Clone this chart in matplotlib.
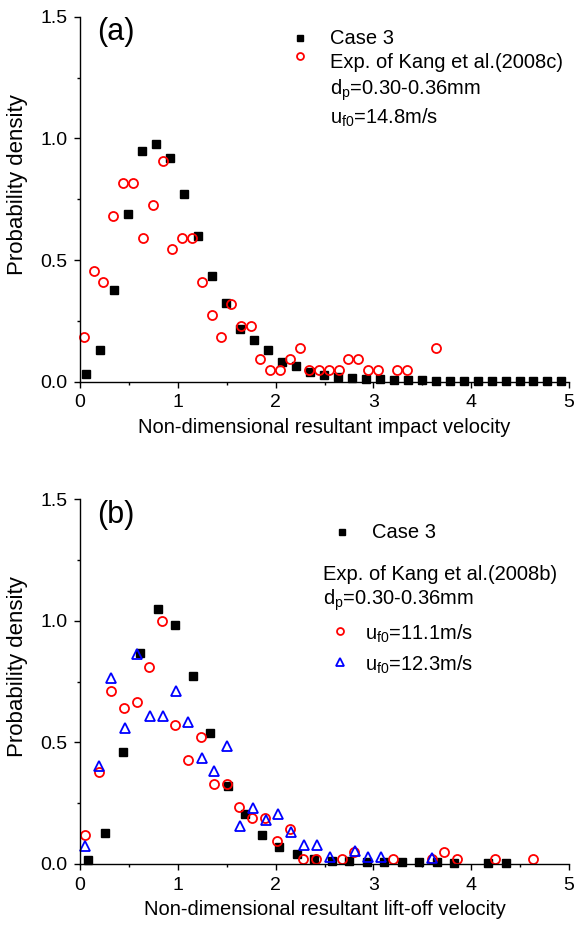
import matplotlib
matplotlib.use("Agg")
import matplotlib.pyplot as plt
from matplotlib.ticker import MultipleLocator

plt.rcParams['font.family'] = ['Liberation Sans', 'DejaVu Sans']

# (a) impact velocity
a_case3_x = [0.061, 0.204, 0.347, 0.490, 0.633, 0.776, 0.919, 1.062, 1.205, 1.348,
             1.491, 1.634, 1.777, 1.920, 2.063, 2.206, 2.349, 2.492, 2.635, 2.778,
             2.921, 3.064, 3.207, 3.350, 3.493, 3.636, 3.779, 3.922, 4.065, 4.208,
             4.351, 4.494, 4.637, 4.780, 4.923]
a_case3_y = [0.030, 0.130, 0.375, 0.690, 0.950, 0.975, 0.920, 0.770, 0.600, 0.435,
             0.325, 0.215, 0.170, 0.130, 0.083, 0.066, 0.040, 0.028, 0.020, 0.016,
             0.013, 0.012, 0.009, 0.007, 0.005, 0.004, 0.004, 0.003, 0.003, 0.003,
             0.003, 0.003, 0.003, 0.003, 0.003]
a_exp_x = [0.04, 0.14, 0.24, 0.34, 0.44, 0.545, 0.645, 0.745, 0.845, 0.945,
           1.045, 1.145, 1.245, 1.345, 1.445, 1.545, 1.645, 1.745, 1.845, 1.945,
           2.045, 2.145, 2.245, 2.345, 2.445, 2.545, 2.645, 2.745, 2.845, 2.945,
           3.045, 3.245, 3.345, 3.645]
a_exp_y = [0.182, 0.454, 0.410, 0.682, 0.817, 0.817, 0.591, 0.725, 0.907, 0.545,
           0.591, 0.591, 0.410, 0.273, 0.182, 0.318, 0.228, 0.228, 0.092, 0.047,
           0.047, 0.092, 0.137, 0.047, 0.047, 0.047, 0.047, 0.092, 0.092, 0.047,
           0.047, 0.047, 0.047, 0.137]

# (b) lift-off velocity
b_case3_x = [0.082, 0.259, 0.436, 0.613, 0.794, 0.975, 1.152, 1.329, 1.510, 1.684,
             1.858, 2.038, 2.215, 2.393, 2.573, 2.754, 2.930, 3.110, 3.290, 3.470,
             3.650, 3.820, 4.170, 4.360]
b_case3_y = [0.015, 0.127, 0.460, 0.869, 1.049, 0.983, 0.772, 0.537, 0.322, 0.205,
             0.120, 0.071, 0.041, 0.022, 0.011, 0.011, 0.010, 0.008, 0.007, 0.007,
             0.007, 0.006, 0.006, 0.005]
b_exp1_x = [0.051, 0.194, 0.320, 0.450, 0.583, 0.709, 0.842, 0.975, 1.107, 1.237,
            1.367, 1.500, 1.629, 1.759, 1.892, 2.018, 2.147, 2.284, 2.413, 2.676,
            2.802, 3.197, 3.600, 3.720, 3.850, 4.240, 4.635]
b_exp1_y = [0.118, 0.379, 0.713, 0.642, 0.665, 0.810, 0.999, 0.570, 0.428, 0.522,
            0.331, 0.331, 0.236, 0.190, 0.190, 0.095, 0.144, 0.022, 0.022, 0.022,
            0.048, 0.022, 0.022, 0.048, 0.022, 0.022, 0.022]
b_exp2_x = [0.054, 0.191, 0.320, 0.460, 0.586, 0.712, 0.845, 0.978, 1.107, 1.244,
            1.373, 1.506, 1.636, 1.766, 1.899, 2.028, 2.157, 2.294, 2.420, 2.556,
            2.812, 2.948, 3.078, 3.600]
b_exp2_y = [0.075, 0.405, 0.763, 0.558, 0.865, 0.610, 0.610, 0.712, 0.586, 0.434,
            0.383, 0.484, 0.155, 0.230, 0.181, 0.205, 0.131, 0.080, 0.080, 0.030,
            0.055, 0.030, 0.030, 0.026]

x_ticks = [0, 1, 2, 3, 4, 5]
y_ticks = [0.0, 0.5, 1.0, 1.5]

W, H = 574, 926
fig = plt.figure(figsize=(W / 100, H / 100), dpi=100)

# axes boxes in pixels: left, right, top, bottom
box_a = (80, 569, 16.7, 381.7)
box_b = (80, 569, 499.3, 864.0)

LEG_FS = 14.5


def pix(box, px, py):
    l, r, t, b = box
    return (px - l) / (r - l), (b - py) / (b - t)


def make_axes(box):
    l, r, t, b = box
    ax = fig.add_axes([l / W, 1 - b / H, (r - l) / W, (b - t) / H])
    ax.set_xlim(0, 5)
    ax.set_ylim(0, 1.5)
    ax.spines['top'].set_visible(False)
    ax.spines['right'].set_visible(False)
    ax.spines['left'].set_linewidth(1.0)
    ax.spines['bottom'].set_linewidth(1.0)
    ax.set_xticks(x_ticks)
    ax.set_xticklabels([str(v) for v in x_ticks])
    ax.set_yticks(y_ticks)
    ax.set_yticklabels(['%.1f' % v for v in y_ticks])
    ax.xaxis.set_minor_locator(MultipleLocator(0.5))
    ax.yaxis.set_minor_locator(MultipleLocator(0.25))
    ax.tick_params(which='major', direction='out', length=4, width=1.0, labelsize=14, pad=5)
    ax.tick_params(which='minor', direction='out', length=2.5, width=1.0)
    ax.set_ylabel('Probability density', fontsize=16)
    # label sits a bit above the axis centre in the original
    ax.yaxis.set_label_coords(*pix(box, 28, t + 0.46 * (b - t)))
    return ax


sq = dict(marker='s', ls='none', color='black', ms=6, clip_on=False)
circ = dict(marker='o', ls='none', mfc='none', mec='red', mew=1.3, ms=6.5, clip_on=False)
tri = dict(marker='^', ls='none', mfc='none', mec='blue', mew=1.3, ms=7, clip_on=False)

# panel (a)
ax1 = make_axes(box_a)
ax1.plot(a_case3_x, a_case3_y, **sq)
ax1.plot(a_exp_x, a_exp_y, **circ)
ax1.set_xlabel('Non-dimensional resultant impact velocity', fontsize=14.5, labelpad=5)
ax1.text(*pix(box_a, 97, 32), '(a)', transform=ax1.transAxes, fontsize=22, va='center')

ax1.plot(*pix(box_a, 300, 38), transform=ax1.transAxes, marker='s', color='black', ms=5, clip_on=False)
ax1.plot(*pix(box_a, 300, 56), transform=ax1.transAxes, marker='o', mfc='none', mec='red',
         mew=1.3, ms=5, clip_on=False)
ax1.text(*pix(box_a, 330, 38), 'Case 3', transform=ax1.transAxes, fontsize=LEG_FS, va='center')
ax1.text(*pix(box_a, 330, 63), 'Exp. of Kang et al.(2008c)', transform=ax1.transAxes,
         fontsize=LEG_FS, va='center')
ax1.text(*pix(box_a, 330, 90), r'd$_\mathregular{p}$=0.30-0.36mm', transform=ax1.transAxes,
         fontsize=LEG_FS, va='center')
ax1.text(*pix(box_a, 330, 118), r'u$_\mathregular{f0}$=14.8m/s', transform=ax1.transAxes,
         fontsize=LEG_FS, va='center')

# panel (b)
ax2 = make_axes(box_b)
ax2.plot(b_case3_x, b_case3_y, **sq)
ax2.plot(b_exp1_x, b_exp1_y, **circ)
ax2.plot(b_exp2_x, b_exp2_y, **tri)
ax2.set_xlabel('Non-dimensional resultant lift-off velocity', fontsize=14.5, labelpad=5)
ax2.text(*pix(box_b, 97, 515), '(b)', transform=ax2.transAxes, fontsize=22, va='center')

ax2.plot(*pix(box_b, 342, 532), transform=ax2.transAxes, marker='s', color='black', ms=5, clip_on=False)
ax2.text(*pix(box_b, 372, 533), 'Case 3', transform=ax2.transAxes, fontsize=LEG_FS, va='center')
ax2.text(*pix(box_b, 323, 575), 'Exp. of Kang et al.(2008b)', transform=ax2.transAxes,
         fontsize=LEG_FS, va='center')
ax2.text(*pix(box_b, 323, 600), r'd$_\mathregular{p}$=0.30-0.36mm', transform=ax2.transAxes,
         fontsize=LEG_FS, va='center')
ax2.plot(*pix(box_b, 340, 631), transform=ax2.transAxes, marker='o', mfc='none', mec='red',
         mew=1.3, ms=5, clip_on=False)
ax2.text(*pix(box_b, 365, 634), r'u$_\mathregular{f0}$=11.1m/s', transform=ax2.transAxes,
         fontsize=LEG_FS, va='center')
ax2.plot(*pix(box_b, 340, 662), transform=ax2.transAxes, marker='^', mfc='none', mec='blue',
         mew=1.3, ms=5.5, clip_on=False)
ax2.text(*pix(box_b, 365, 665), r'u$_\mathregular{f0}$=12.3m/s', transform=ax2.transAxes,
         fontsize=LEG_FS, va='center')

fig.savefig('out.png', dpi=100)
